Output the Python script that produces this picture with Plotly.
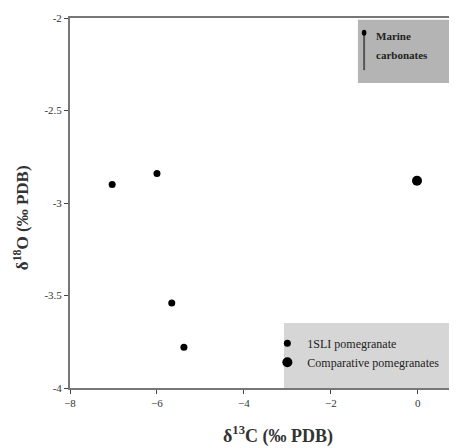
import plotly.graph_objects as go

# data
sli_c = [-7.03, -6.0, -5.66, -5.38]
sli_o = [-2.90, -2.84, -3.54, -3.78]
comp_c = [-0.02]
comp_o = [-2.88]
x_ticks = [-8, -6, -4, -2, 0]
y_ticks = [-2, -2.5, -3, -3.5, -4]

FONT = "Liberation Serif"

fig = go.Figure()
fig.add_trace(go.Scatter(x=sli_c, y=sli_o, mode="markers", name="1SLI pomegranate",
                         marker=dict(color="black", size=7)))
fig.add_trace(go.Scatter(x=comp_c, y=comp_o, mode="markers", name="Comparative pomegranates",
                         marker=dict(color="black", size=10)))

# marine carbonates box
fig.add_shape(type="rect", xref="x domain", yref="y domain", x0=0.744, x1=1.0, y0=0.824, y1=0.995,
              fillcolor="#b4b4b4", line_width=0, layer="below")
fig.add_shape(type="line", xref="x domain", yref="y domain", x0=0.760, x1=0.760, y0=0.859, y1=0.962,
              line=dict(color="#555555", width=2))
fig.add_shape(type="circle", xref="x domain", yref="y domain", x0=0.754, x1=0.766, y0=0.952, y1=0.968,
              fillcolor="black", line_width=0)
fig.add_annotation(xref="x domain", yref="y domain", x=0.786, y=0.932, xanchor="left", yanchor="middle",
                   yshift=7, text="<b>Marine</b>", showarrow=False,
                   font=dict(size=11, color="#222222", family=FONT))
fig.add_annotation(xref="x domain", yref="y domain", x=0.786, y=0.881, xanchor="left", yanchor="middle",
                   yshift=7, text="<b>carbonates</b>", showarrow=False,
                   font=dict(size=11, color="#222222", family=FONT))

# legend background
fig.add_shape(type="rect", xref="x domain", yref="y domain", x0=0.553, x1=1.0, y0=0.0, y1=0.176,
              fillcolor="#d6d6d6", line_width=0, layer="below")

# axis titles
fig.add_annotation(xref="paper", yref="paper", x=0.537, y=0, yshift=-47, yanchor="middle",
                   text="<b>δ<sup>13</sup>C (‰ PDB)</b>", showarrow=False,
                   font=dict(size=18, family=FONT, color="#333333"))
fig.add_annotation(xref="paper", yref="paper", x=0, xshift=-49, y=0.459, xanchor="center",
                   textangle=-90, text="<b>δ<sup>18</sup>O (‰ PDB)</b>", showarrow=False,
                   font=dict(size=17, family=FONT, color="#333333"))

fig.update_layout(
    width=449, height=440,
    margin=dict(l=62, r=0, t=10, b=60),
    plot_bgcolor="white", paper_bgcolor="white",
    font=dict(family=FONT, color="#333333", size=11),
    showlegend=True,
    legend=dict(x=0.51, y=0.16, xanchor="left", yanchor="top", bgcolor="rgba(0,0,0,0)",
                font=dict(size=12, family=FONT, color="#222222"), itemsizing="trace",
                itemwidth=30),
    xaxis=dict(range=[-8, 0.9], tickvals=x_ticks, ticks="outside", ticklen=4,
               showline=True, linecolor="#777777", linewidth=2, mirror=True, showgrid=False,
               zeroline=False, tickfont=dict(size=11, family=FONT)),
    yaxis=dict(range=[-4, -2], tickvals=y_ticks, ticktext=[str(v) for v in y_ticks], ticks="outside", ticklen=4,
               showline=True, linecolor="#777777", linewidth=2, showgrid=False, zeroline=False,
               tickfont=dict(size=11, family=FONT)),
)

fig.write_html("out.html")
